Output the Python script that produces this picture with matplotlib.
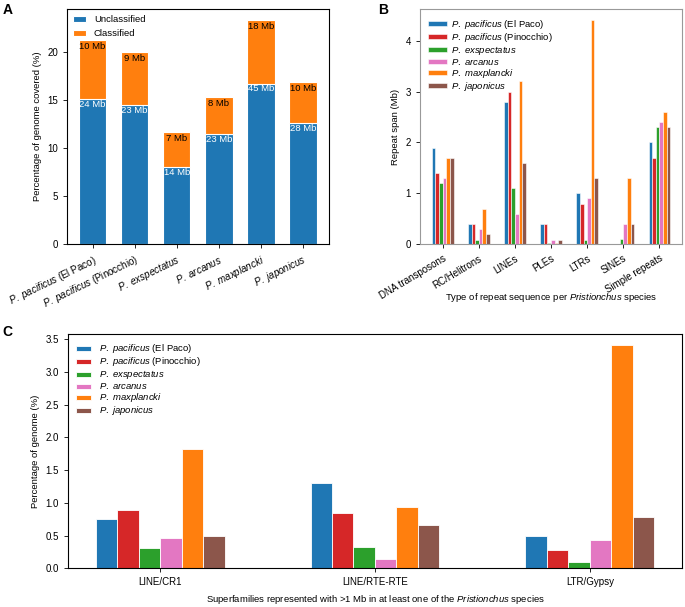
import numpy as np
import matplotlib
matplotlib.use('Agg')
import matplotlib.pyplot as plt

plt.rcParams['font.family'] = ['Liberation Sans', 'DejaVu Sans']
plt.rcParams['mathtext.fontset'] = 'custom'
plt.rcParams['mathtext.rm'] = 'Liberation Sans'
plt.rcParams['mathtext.it'] = 'Liberation Sans:italic'
plt.rcParams['font.size'] = 6.8
plt.rcParams['xtick.labelsize'] = 7.0
plt.rcParams['ytick.labelsize'] = 7.0
plt.rcParams['xtick.major.size'] = 3
plt.rcParams['ytick.major.size'] = 3
plt.rcParams['xtick.major.width'] = 0.6
plt.rcParams['ytick.major.width'] = 0.6
plt.rcParams['axes.linewidth'] = 0.8

### data
species_labels = [
    r'$\mathit{P.\ pacificus}$ (El Paco)',
    r'$\mathit{P.\ pacificus}$ (Pinocchio)',
    r'$\mathit{P.\ exspectatus}$',
    r'$\mathit{P.\ arcanus}$',
    r'$\mathit{P.\ maxplancki}$',
    r'$\mathit{P.\ japonicus}$',
]
species_colors = ['#1f77b4', '#d62728', '#2ca02c', '#e377c2', '#ff7f0e', '#8c564b']

# panel A: % of genome covered
unclassified_pct = [15.1, 14.5, 8.0, 11.5, 16.75, 12.6]
classified_pct = [6.2, 5.5, 3.65, 3.85, 6.6, 4.35]
unclassified_mb = [24, 23, 14, 23, 45, 28]
classified_mb = [10, 9, 7, 8, 18, 10]

# panel B: repeat span (Mb) per repeat type
repeat_types = ['DNA transposons', 'RC/Helitrons', 'LINEs', 'PLEs', 'LTRs', 'SINEs', 'Simple repeats']
span_elpaco = [1.9, 0.4, 2.8, 0.4, 1.0, 0.0, 2.0]
span_pinocchio = [1.4, 0.4, 3.0, 0.4, 0.8, 0.0, 1.7]
span_exspectatus = [1.2, 0.08, 1.1, 0.03, 0.09, 0.1, 2.3]
span_arcanus = [1.3, 0.3, 0.6, 0.09, 0.9, 0.4, 2.4]
span_maxplancki = [1.7, 0.7, 3.2, 0.03, 4.4, 1.3, 2.6]
span_japonicus = [1.7, 0.2, 1.6, 0.09, 1.3, 0.4, 2.3]

# panel C: % of genome per superfamily
superfamilies = ['LINE/CR1', 'LINE/RTE-RTE', 'LTR/Gypsy']
sf_elpaco = [0.76, 1.30, 0.49]
sf_pinocchio = [0.89, 0.84, 0.28]
sf_exspectatus = [0.31, 0.33, 0.10]
sf_arcanus = [0.46, 0.15, 0.44]
sf_maxplancki = [1.83, 0.94, 3.41]
sf_japonicus = [0.50, 0.66, 0.79]

span_all = [span_elpaco, span_pinocchio, span_exspectatus, span_arcanus, span_maxplancki, span_japonicus]
sf_all = [sf_elpaco, sf_pinocchio, sf_exspectatus, sf_arcanus, sf_maxplancki, sf_japonicus]

fig = plt.figure(figsize=(6.85, 6.07), dpi=100)

### A
axA = fig.add_axes([0.0978, 0.598, 0.382, 0.387])
x = np.arange(len(species_labels))
axA.bar(x, unclassified_pct, width=0.65, color='#1f77b4', edgecolor='white', linewidth=0.8, label='Unclassified')
axA.bar(x, classified_pct, width=0.65, bottom=unclassified_pct, color='#ff7f0e', edgecolor='white', linewidth=0.8, label='Classified')
for i in range(len(x)):
    axA.annotate(f'{unclassified_mb[i]} Mb', (x[i], unclassified_pct[i]), xytext=(0, -0.5),
                 textcoords='offset points', ha='center', va='top', color='white', fontsize=6.8)
    axA.annotate(f'{classified_mb[i]} Mb', (x[i], unclassified_pct[i] + classified_pct[i]), xytext=(0, -1.5),
                 textcoords='offset points', ha='center', va='top', color='black', fontsize=6.8)
axA.set_xticks(x)
axA.set_xticklabels(species_labels, rotation=26, ha='right', rotation_mode='anchor')
axA.set_yticks([0, 5, 10, 15, 20])
axA.set_ylabel('Percentage of genome covered (%)')
axA.legend(loc='upper left', frameon=False, fontsize=6.8, labelspacing=0.55, handlelength=1.4,
           handleheight=0.6, handletextpad=0.8, borderaxespad=0.25)

### B
axB = fig.add_axes([0.613, 0.5975, 0.383, 0.3875])
xb = np.arange(len(repeat_types))
for i, vals in enumerate(span_all):
    axB.bar(xb + (i - 2.5) * 0.1, vals, width=0.1, color=species_colors[i], edgecolor='white',
            linewidth=0.4, label=species_labels[i])
axB.set_xticks(xb)
axB.set_xticklabels(repeat_types, rotation=31, ha='right', rotation_mode='anchor')
axB.set_yticks([0, 1, 2, 3, 4])
axB.set_ylabel('Repeat span (Mb)')
axB.set_xlabel(r'Type of repeat sequence per $\mathit{Pristionchus}$ species')
axB.xaxis.set_label_coords(0.5, -0.2)
for s in axB.spines.values():
    s.set_color('#999999')
axB.legend(loc='upper left', frameon=False, fontsize=6.8, labelspacing=0.0, handlelength=2.0,
           handleheight=0.45, handletextpad=0.4)

### C
axC = fig.add_axes([0.0988, 0.0637, 0.8972, 0.3861])
xc = np.arange(len(superfamilies))
for i, vals in enumerate(sf_all):
    axC.bar(xc + (i - 2.5) * 0.1, vals, width=0.1, color=species_colors[i], edgecolor='white',
            linewidth=0.6, label=species_labels[i])
axC.set_xticks(xc)
axC.set_xticklabels(superfamilies)
axC.set_yticks(np.arange(0, 3.51, 0.5))
axC.set_ylabel('Percentage of genome (%)')
axC.set_xlabel(r'Superfamilies represented with >1 Mb in at least one of the $\mathit{Pristionchus}$ species')
axC.xaxis.set_label_coords(0.5, -0.105)
axC.legend(loc='upper left', frameon=False, fontsize=6.8, labelspacing=0.0, handlelength=1.6,
           handleheight=0.45, handletextpad=0.8)

fig.text(0.004, 0.995, 'A', fontsize=10, fontweight='bold', va='top', ha='left')
fig.text(0.552, 0.995, 'B', fontsize=10, fontweight='bold', va='top', ha='left')
fig.text(0.004, 0.465, 'C', fontsize=10, fontweight='bold', va='top', ha='left')

fig.savefig('out.png', dpi=100)
